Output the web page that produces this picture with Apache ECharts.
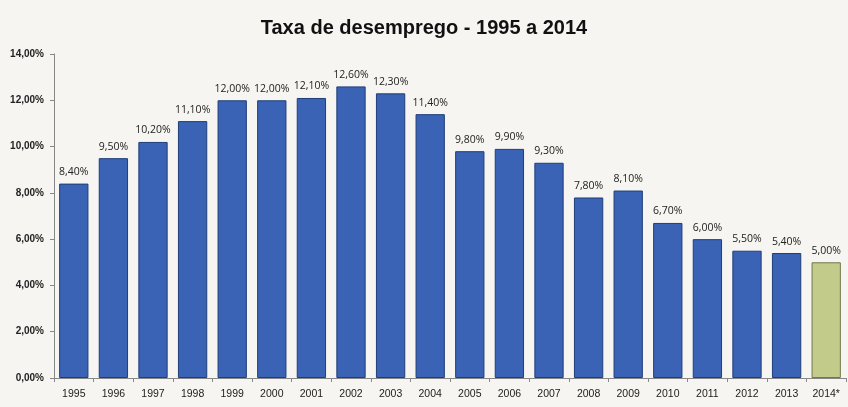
<!DOCTYPE html>
<html>
<head>
<meta charset="utf-8">
<script src="https://cdn.jsdelivr.net/npm/echarts@6/dist/echarts.min.js"></script>
<style>
  html, body { margin: 0; padding: 0; background: #f6f5f2; }
  #chart { width: 848px; height: 407px; }
</style>
</head>
<body>
<div id="chart"></div>
<script>
// Unemployment rate by year (%), 2014 is an estimate
const years = ['1995','1996','1997','1998','1999','2000','2001','2002','2003','2004',
               '2005','2006','2007','2008','2009','2010','2011','2012','2013','2014*'];
const rates = [8.4, 9.5, 10.2, 11.1, 12.0, 12.0, 12.1, 12.6, 12.3, 11.4,
               9.8, 9.9, 9.3, 7.8, 8.1, 6.7, 6.0, 5.5, 5.4, 5.0];
const estimateIndex = [19];

const pct = v => v.toFixed(2).replace('.', ',') + '%';

const chart = echarts.init(document.getElementById('chart'), null, { renderer: 'canvas' });
chart.setOption({
  backgroundColor: '#f6f5f2',
  animation: false,
  title: {
    text: 'Taxa de desemprego - 1995 a 2014',
    left: 'center',
    top: 13,
    textStyle: { fontFamily: 'Liberation Sans', fontWeight: 'bold', fontSize: 20, color: '#111' }
  },
  grid: { left: 54, right: 2, top: 54, bottom: 29, containLabel: false },
  xAxis: {
    type: 'category',
    data: years,
    axisLine: { lineStyle: { color: '#888', width: 1 } },
    axisTick: { show: true, alignWithLabel: false, length: 4, lineStyle: { color: '#888' } },
    axisLabel: { color: '#222', fontFamily: 'Liberation Sans', fontSize: 10.5, margin: 11 }
  },
  yAxis: {
    type: 'value',
    min: 0, max: 14, interval: 2,
    splitLine: { show: false },
    axisLine: { show: true, lineStyle: { color: '#888', width: 1 } },
    axisTick: { show: true, length: 4, lineStyle: { color: '#888' } },
    axisLabel: {
      color: '#222', fontFamily: 'Liberation Sans', fontWeight: 'bold', fontSize: 10, margin: 10,
      formatter: v => pct(v)
    }
  },
  series: [{
    type: 'bar',
    barCategoryGap: '26%',
    data: rates.map((v, i) => estimateIndex.includes(i)
      ? { value: v, itemStyle: { color: '#c3cb8b', borderColor: '#6f7a4a' } }
      : v),
    itemStyle: { color: '#3a63b5', borderColor: '#1f3d78', borderWidth: 1 },
    label: {
      show: true, position: 'top', distance: 6,
      color: '#222', fontFamily: 'Open Sans', fontSize: 10.5,
      formatter: p => pct(p.value)
    }
  }]
});
</script>
</body>
</html>
